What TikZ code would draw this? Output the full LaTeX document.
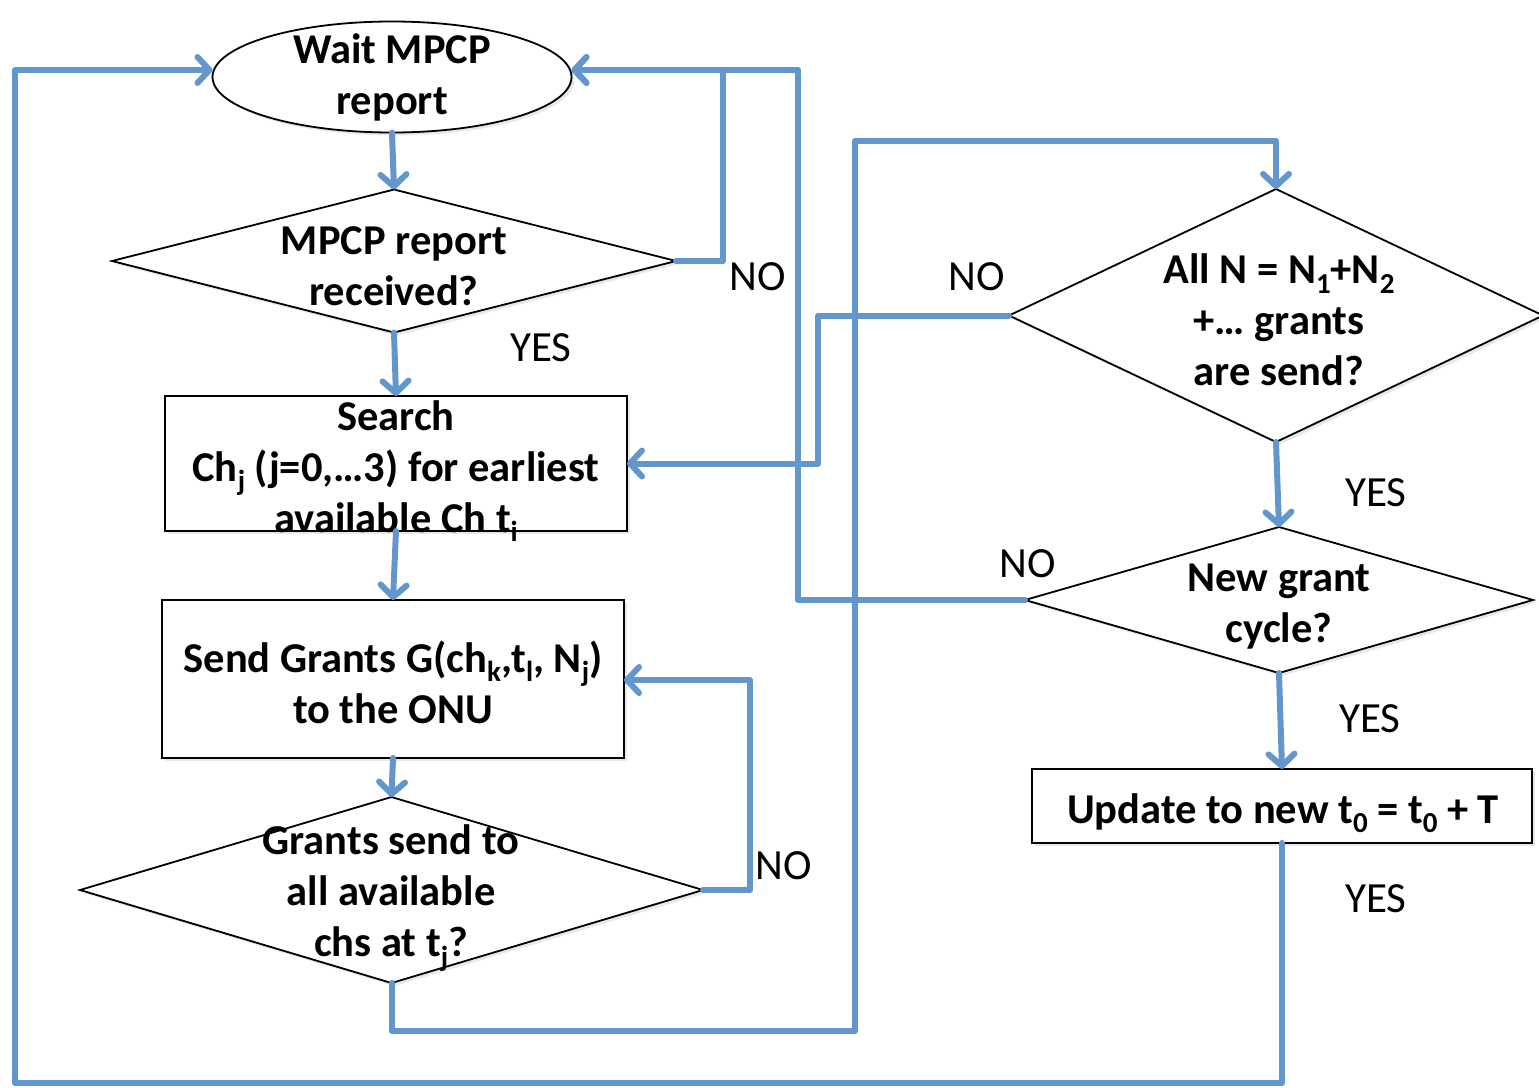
\documentclass[tikz,border=0pt]{standalone}
\usepackage{fontspec}
\setmainfont{Carlito}
\usetikzlibrary{shapes.geometric,arrows.meta,shadows}
\definecolor{flow}{RGB}{98,150,205}
\newcommand{\lsub}[1]{\raisebox{-0.22em}{\fontsize{29}{29}\selectfont #1}}
\begin{document}
\begin{tikzpicture}[x=1pt,y=-1pt,
  shp/.style={draw=black,line width=1.8pt,fill=white,inner sep=0pt,outer sep=0pt,
    drop shadow={shadow xshift=3pt,shadow yshift=-3pt,opacity=0.18}},
  txt/.style={align=center,inner sep=0pt,font=\fontsize{42.5}{51}\selectfont\bfseries},
  lbl/.style={inner sep=0pt,font=\fontsize{43}{48}\selectfont},
  conn/.style={draw=flow,line width=6pt,line join=round,line cap=round},
  arr/.style={conn,-{Straight Barb[length=12pt,width=26pt,round]}}]
\useasboundingbox (0,0) rectangle (1539,1087);

% shapes
\node[shp,ellipse,minimum width=359pt,minimum height=111pt] (wait) at (392,77) {};
\node[shp,diamond,minimum width=564pt,minimum height=143pt] (recv) at (394,261) {};
\node[shp,rectangle,minimum width=462pt,minimum height=135pt] (search) at (396,463.5) {};
\node[shp,rectangle,minimum width=462pt,minimum height=158pt] (send) at (393,679) {};
\node[shp,diamond,minimum width=623pt,minimum height=186pt] (grants) at (391.5,890) {};
\node[shp,diamond,minimum width=534pt,minimum height=253pt] (alln) at (1276,315.5) {};
\node[shp,diamond,minimum width=508pt,minimum height=146pt] (newg) at (1279,600) {};
\node[shp,rectangle,minimum width=500pt,minimum height=74pt] (upd) at (1282,806) {};

% texts
\node[txt] (waitT) at (392,77) {Wait MPCP\\report};
\node[txt] (recvT) at (394,266) {MPCP report\\received?};
\node[txt] (searchT) at (396,471) {Search\\Ch\lsub{j} (j=0,…3) for earliest\\available Ch t\lsub{i}};
\node[txt] (sendT) at (393,682) {Send Grants G(ch\lsub{k},t\lsub{l}, N\lsub{j})\\to the ONU};
\node[txt] (grantsT) at (391,898) {Grants send to\\all available\\chs at t\lsub{j}?};
\node[txt] (allnT) at (1279,320) {All N = N\lsub{1}+N\lsub{2}\\+… grants\\are send?};
\node[txt] (newgT) at (1279,607) {New grant\\cycle?};
\node[txt] (updT) at (1283,813) {Update to new t\lsub{0} = t\lsub{0} + T};

% labels
\node[lbl] (no1) at (758,277) {NO};
\node[lbl] (yes1) at (541,348) {YES};
\node[lbl] (no2) at (784,866) {NO};
\node[lbl] (no3) at (977,277) {NO};
\node[lbl] (yes2) at (1376,493) {YES};
\node[lbl] (no4) at (1028,564) {NO};
\node[lbl] (yes3) at (1370,719) {YES};
\node[lbl] (yes4) at (1376,899) {YES};

% turning points
\coordinate (r1) at (723,70);
\coordinate (g1) at (750,680);
\coordinate (b1) at (855,1031);
\coordinate (b2) at (855,141);
\coordinate (a1) at (818,463.5);
\coordinate (n1) at (798,70);
\coordinate (u2) at (15,1083);
\coordinate (u3) at (15,70);

% connectors
\draw[arr] (wait.south) -- (recv.north);
\draw[arr] (recv.south) -- (search.north);
\draw[arr] (recv.east) -| (r1) -- (wait.east |- r1);
\draw[arr] (search.south) -- (send.north);
\draw[arr] (send.south) -- (grants.north);
\draw[arr] (grants.east) -| (g1) -- (send.east |- g1);
\draw[arr] (grants.south) |- (b1) -- (b2) -| (alln.north);
\draw[arr] (alln.west) -| (a1) -- (search.east);
\draw[arr] (alln.south) -- (newg.north);
\draw[arr] (newg.west) -| (n1) -- (wait.east |- n1);
\draw[arr] (newg.south) -- (upd.north);
\draw[arr] (upd.south) |- (u2) -- (u3) -- (wait.west |- u3);
\end{tikzpicture}
\end{document}
